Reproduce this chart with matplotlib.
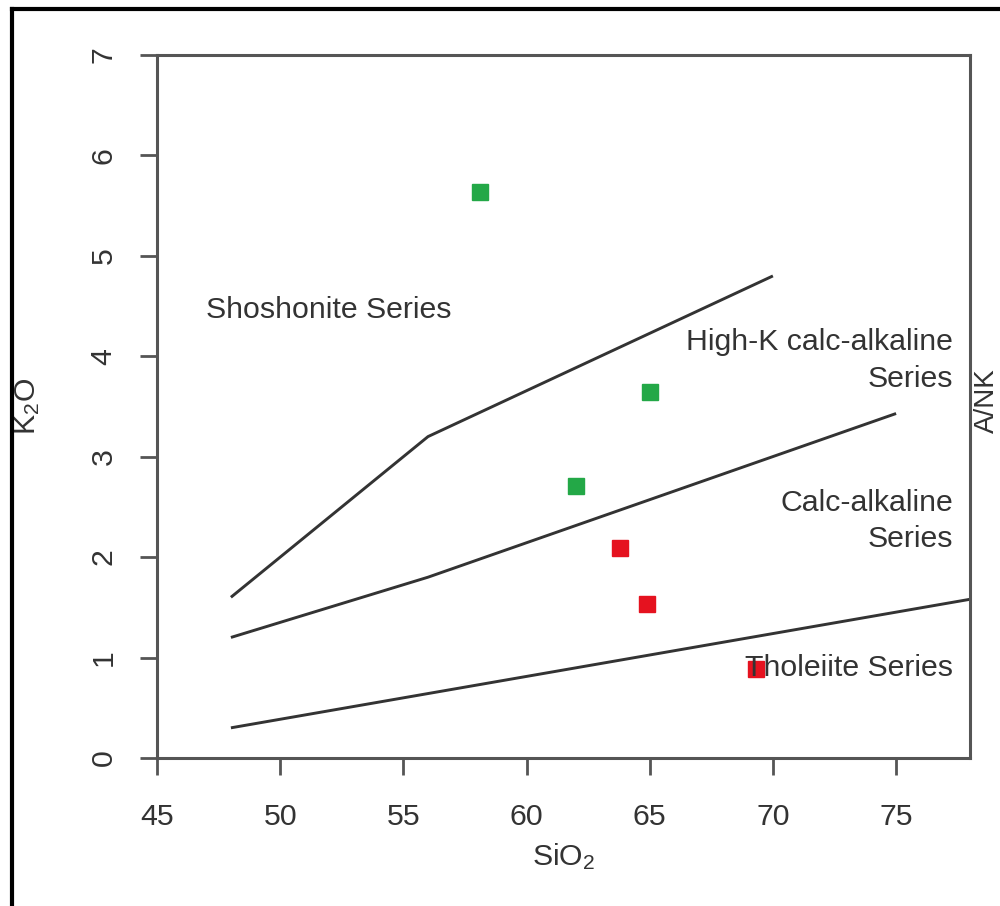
import matplotlib
matplotlib.use("Agg")
import matplotlib.pyplot as plt
from matplotlib.lines import Line2D

plt.rcParams['font.family'] = ['Liberation Sans', 'DejaVu Sans']
plt.rcParams['mathtext.fontset'] = 'custom'
plt.rcParams['mathtext.rm'] = 'Liberation Sans'
plt.rcParams['mathtext.it'] = 'Liberation Sans'

# sample points (SiO2, K2O)
green_sio2 = [58.1, 65.0, 62.0]
green_k2o = [5.64, 3.64, 2.71]
red_sio2 = [63.8, 64.9, 69.3]
red_k2o = [2.09, 1.53, 0.89]

# series boundaries
shosh_x = [48, 56, 70]
shosh_y = [1.6, 3.2, 4.8]
highk_x = [48, 56, 75]
highk_y = [1.2, 1.8, 3.43]
calc_x = [48, 78]
calc_y = [0.3, 1.58]

xticks = [45, 50, 55, 60, 65, 70, 75]
yticks = [0, 1, 2, 3, 4, 5, 6, 7]

txt = '#333333'
axc = '#555555'
fs = 21.8

fig = plt.figure(figsize=(10, 9.06), dpi=100)
ax = fig.add_axes([0.157, 0.1634, 0.813, 0.7759])

for xs, ys in [(shosh_x, shosh_y), (highk_x, highk_y), (calc_x, calc_y)]:
    ax.plot(xs, ys, color='#333333', lw=2.1, solid_capstyle='butt')

ax.plot(green_sio2, green_k2o, 's', color='#23a847', ms=12, mec='#23a847', ls='none')
ax.plot(red_sio2, red_k2o, 's', color='#e5121f', ms=12, mec='#e5121f', ls='none')

ax.text(47.0, 4.46, 'Shoshonite Series', fontsize=fs, color=txt, ha='left', va='center')
ax.text(77.3, 3.96, 'High-K calc-alkaline\nSeries', fontsize=fs, color=txt,
        ha='right', va='center', multialignment='right', linespacing=1.4)
ax.text(77.3, 2.36, 'Calc-alkaline\nSeries', fontsize=fs, color=txt,
        ha='right', va='center', multialignment='right', linespacing=1.4)
ax.text(77.3, 0.9, 'Tholeiite Series', fontsize=fs, color=txt, ha='right', va='center')

ax.set_xlim(45, 78)
ax.set_ylim(0, 7)
ax.set_xticks(xticks)
ax.set_yticks(yticks)
ax.tick_params(direction='out', length=12.5, width=2, color=axc, labelcolor=txt, labelsize=fs)
ax.tick_params(axis='x', pad=20)
ax.tick_params(axis='y', pad=16)
for lab in ax.get_yticklabels():
    lab.set_rotation(90)
    lab.set_va('center')
for s in ax.spines.values():
    s.set_color(axc)
    s.set_linewidth(2.2)

ax.set_xlabel('SiO$_2$', fontsize=fs, color=txt, va='center')
ax.set_ylabel('K$_2$O', fontsize=fs, color=txt, va='center')
ax.xaxis.set_label_coords(0.5, -0.14)
ax.yaxis.set_label_coords(-0.159, 0.5)

# neighbouring panel label at the right edge
fig.text(0.9995, 0.558, 'A/NK', rotation=90, fontsize=20, color=txt, ha='right', va='center')

# outer frame of the cropped figure
fig.add_artist(Line2D([0.012, 0.012], [0, 1 - 9 / 906], transform=fig.transFigure, color='black', lw=3))
fig.add_artist(Line2D([0.012, 1], [1 - 9 / 906, 1 - 9 / 906], transform=fig.transFigure, color='black', lw=3))

fig.savefig('out.png', dpi=100)
